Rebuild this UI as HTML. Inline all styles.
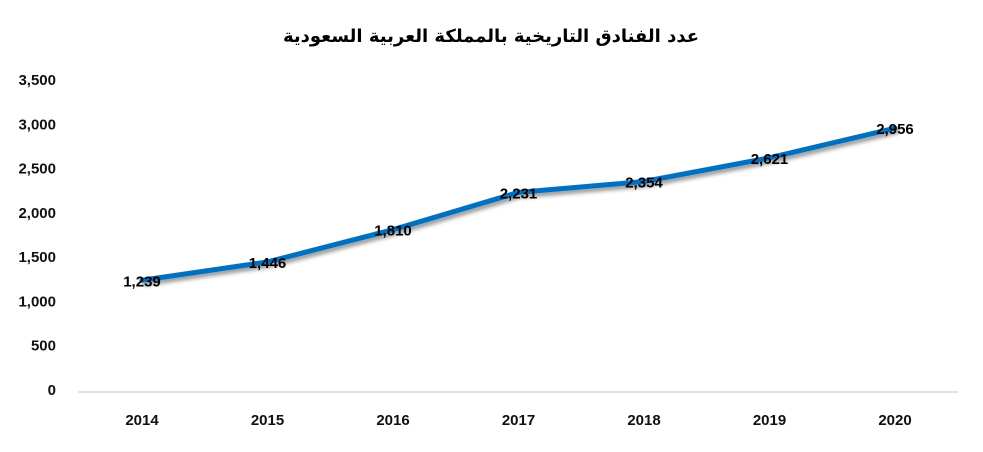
<!DOCTYPE html>
<html><head><meta charset="utf-8"><style>
html,body{margin:0;padding:0;background:#fff;}
svg{display:block;}
text{font-family:"Liberation Sans","Noto Sans CJK SC",sans-serif;}
</style></head><body>
<svg id="chart" width="983" height="452" viewBox="0 0 983 452">
<defs><filter id="sh" x="-10%" y="-20%" width="120%" height="140%"><feGaussianBlur in="SourceAlpha" stdDeviation="2"/><feOffset dx="2" dy="3"/><feComponentTransfer><feFuncA type="linear" slope="0.45"/></feComponentTransfer><feMerge><feMergeNode/><feMergeNode in="SourceGraphic"/></feMerge></filter></defs>
<text x="491" y="42" text-anchor="middle" font-size="18" font-weight="bold" fill="#000" style="font-family:'DejaVu Sans','Noto Sans CJK SC',sans-serif">عدد الفنادق التاريخية بالمملكة العربية السعودية</text>
<g id="yaxis"></g><g id="xaxis"></g><g id="series"></g><g id="labels"></g>
</svg>
<script>
const categories = ["2014","2015","2016","2017","2018","2019","2020"];
const values = [1239,1446,1810,2231,2354,2621,2956];
const yTicks = [0,500,1000,1500,2000,2500,3000,3500];
const yTickLabels = ["0","500","1,000","1,500","2,000","2,500","3,000","3,500"];
const valueLabels = ["1,239","1,446","1,810","2,231","2,354","2,621","2,956"];

const NS="http://www.w3.org/2000/svg";
const y0=390, yTop=80;
function yS(v){return y0 - v*(y0-yTop)/3500;}
function xS(i){return 142 + i*125.5;}
function mk(tag,attrs,parent){const e=document.createElementNS(NS,tag);for(const k in attrs)e.setAttribute(k,attrs[k]);parent.appendChild(e);return e;}

const ya=document.getElementById('yaxis');
yTicks.forEach((t,i)=>{
  const e=mk('text',{x:56,y:yS(t)+5,'text-anchor':'end','font-size':15,'font-weight':'bold',fill:'#111'},ya);
  
  
  e.textContent=yTickLabels[i];
});
const xa=document.getElementById('xaxis');
const ax=mk('line',{x1:78,x2:958,y1:392,y2:392,stroke:'#d9d9d9','stroke-width':1.5},xa);


categories.forEach((c,i)=>{
  const e=mk('text',{x:xS(i),y:425,'text-anchor':'middle','font-size':15,'font-weight':'bold',fill:'#111'},xa);
  
  
  e.textContent=c;
});
const s=document.getElementById('series');
const pts=values.map((v,i)=>xS(i)+','+yS(v)).join(' ');
const pl=mk('polyline',{points:pts,fill:'none',stroke:'#0070C0','stroke-width':5,'stroke-linejoin':'round','stroke-linecap':'round',filter:'url(#sh)'},s);


const lb=document.getElementById('labels');
values.forEach((v,i)=>{
  const e=mk('text',{x:xS(i),y:yS(v)+6,'text-anchor':'middle','font-size':15,'font-weight':'bold',fill:'#000'},lb);
  
  
  e.textContent=valueLabels[i];
});
</script>
</body></html>
